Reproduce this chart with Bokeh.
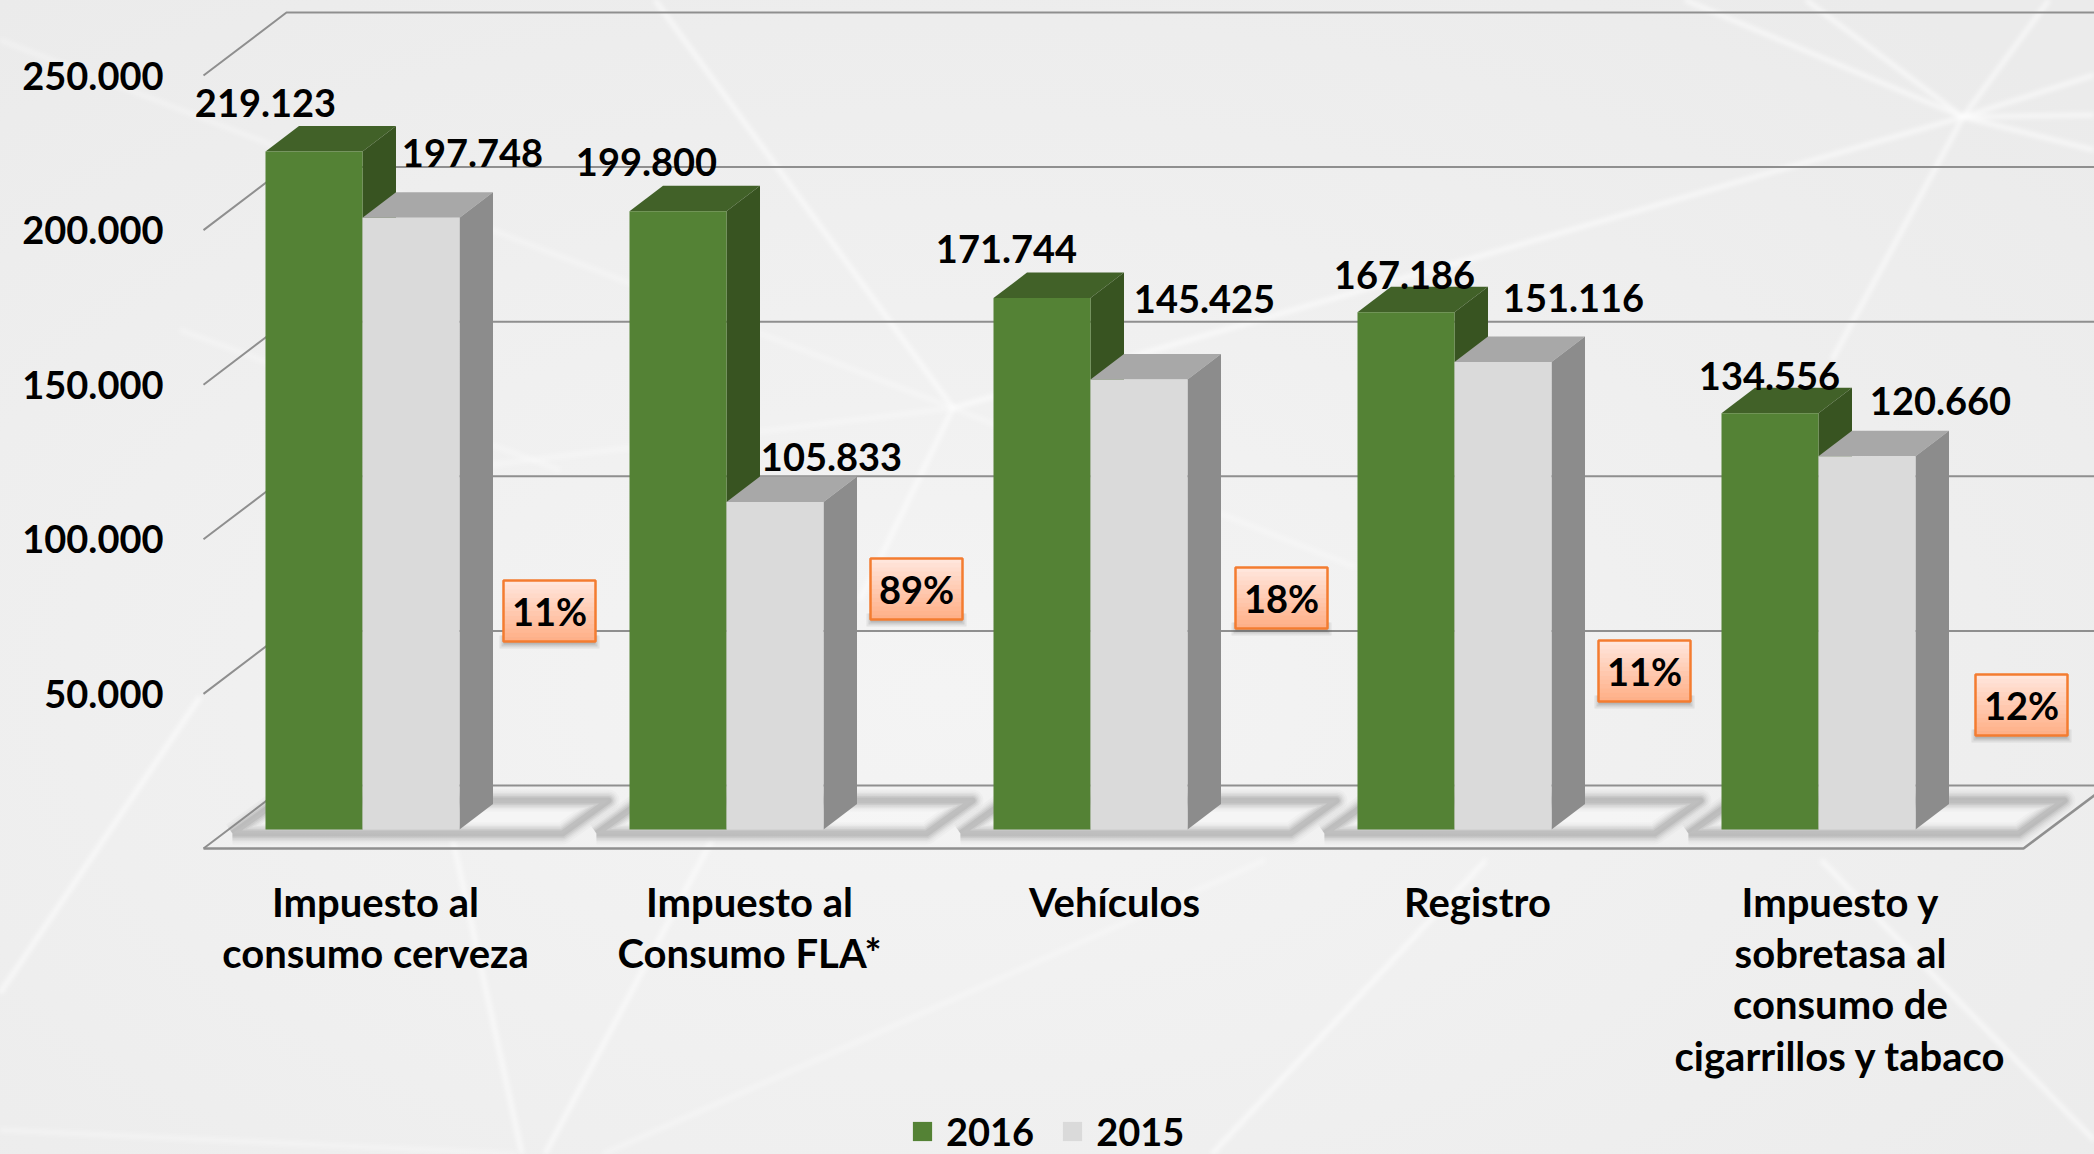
from urllib.parse import quote
import numpy as np
from bokeh.embed import file_html
from bokeh.layouts import column
from bokeh.resources import INLINE
from bokeh.plotting import figure
from bokeh.core.properties import value
from bokeh.models import (ColumnDataSource, Range1d, LinearAxis, FixedTicker,
                          Legend, LegendItem)

# ---------- data ----------
categories = ["Impuesto al\nconsumo cerveza", "Impuesto al\nConsumo FLA*", "Vehículos",
              "Registro", "Impuesto y\nsobretasa al\nconsumo de\ncigarrillos y tabaco"]
values_2016 = [219123, 199800, 171744, 167186, 134556]
values_2015 = [197748, 105833, 145425, 151116, 120660]
labels_2016 = ["219.123", "199.800", "171.744", "167.186", "134.556"]
labels_2015 = ["197.748", "105.833", "145.425", "151.116", "120.660"]
growth = ["11%", "89%", "18%", "11%", "12%"]
y_ticks = [50000, 100000, 150000, 200000, 250000]
y_tick_labels = ["50.000", "100.000", "150.000", "200.000", "250.000"]
series_names = ["2016", "2015"]

# ---------- layout (page pixels) ----------
W, H, H_LEG = 2094, 1094, 60
LEFT, BOTTOM, TOP, RIGHT = 170, 875, 0, 2094
C0, GROUP = 362.0, 364.0          # first group's centre, group spacing
Y0_BAR, K_BAR = 829.0, 3.094e-3   # bar baseline, px per unit
Y0_WALL, K_WALL = 848.0, 3.092e-3 # front edge of the walls
FONT = "Lato"
FS = "38px"
FS_CAT = "40px"
X = lambda px: (np.asarray(px, float) - C0) / GROUP
Y = lambda py: (Y0_BAR - np.asarray(py, float)) / K_BAR
YW = lambda py: (Y0_WALL - np.asarray(py, float)) / K_WALL
BW = 97 / GROUP
DX, DY = 33.5 / GROUP, 25.5 / K_BAR
COL_2016, COL_2015 = "#548235", "#dadada"

# label nudges in pixels
off_2016 = [(0, -49), (17, -49), (13, -49), (47, -37), (48, -37)]
off_2015 = [(110, -65), (105, -45), (114, -81), (119, -64), (122, -55)]
callout_boxes = [(503, 580), (870, 558), (1235, 567), (1598, 640), (1975, 674)]
label_centres = [375, 749, 1114, 1477, 1840]

p = figure(width=W, height=H, output_backend="svg", toolbar_location=None,
           x_range=Range1d(float(X(LEFT)), float(X(RIGHT))),
           y_range=Range1d(float(Y(BOTTOM)), float(Y(TOP))),
           min_border_left=LEFT, min_border_right=0, min_border_top=0,
           min_border_bottom=H - BOTTOM, x_axis_type=None, y_axis_type=None,
           background_fill_alpha=0, border_fill_alpha=0, outline_line_alpha=0)
p.grid.visible = False
p.extra_y_ranges["wall"] = Range1d(float(YW(BOTTOM)), float(YW(TOP)))

# ---------- axes ----------
yax = LinearAxis(y_range_name="wall", ticker=FixedTicker(ticks=y_ticks),
                 major_label_overrides=dict(zip(y_ticks, y_tick_labels)),
                 axis_line_alpha=0, major_tick_line_alpha=0, minor_tick_line_alpha=0,
                 major_tick_in=0, major_tick_out=0, major_label_standoff=7,
                 major_label_text_font=FONT, major_label_text_font_style="bold",
                 major_label_text_font_size=FS, major_label_text_color="#000000")
p.add_layout(yax, "left")
tick_x = [float(v) for v in X(label_centres)]
xax = LinearAxis(ticker=FixedTicker(ticks=tick_x),
                 major_label_overrides=dict(zip(tick_x, categories)),
                 axis_line_alpha=0, major_tick_line_alpha=0, minor_tick_line_alpha=0,
                 major_tick_in=0, major_tick_out=0, major_label_standoff=2,
                 major_label_text_font=FONT, major_label_text_font_style="bold",
                 major_label_text_font_size=FS_CAT, major_label_text_color="#000000",
                 major_label_text_line_height=1.07)
p.add_layout(xax, "below")

# ---------- walls and floor ----------
GRID = "#8f8f8f"
WALL_DY = 63 / K_WALL
xl_f, xl_b = float(X(203)), float(X(286))
xr_f, xr_b = float(X(2023)), float(X(2107))
for v in [0] + y_ticks:
    p.line([xl_f, xl_b, float(X(2110))], [v, v + WALL_DY, v + WALL_DY],
           y_range_name="wall", line_color=GRID, line_width=2)
p.line([xl_f, xr_f, xr_b], [0, 0, WALL_DY], y_range_name="wall", line_color=GRID, line_width=2.5)

# blurred frames on the floor beneath every group
for i in range(5):
    s = i * GROUP
    xs = [float(v) for v in X([232 + s, 562 + s, 608 + s, 278 + s, 232 + s])]
    ys = [float(v) for v in Y([833, 833, 800, 800, 833])]
    p.patch(xs, ys, fill_color="#f7f7f7", fill_alpha=0.7, line_alpha=0)
    for lw, a in [(22, .04), (18, .06), (15, .08), (12, .11), (9, .15), (6, .2)]:
        p.line(xs, ys, line_color="#8a8a8a", line_alpha=a, line_width=lw, line_join="round")

# ---------- 3D bars ----------
def bar(lefts, vals, front, top, side):
    l = np.asarray(lefts)
    r = l + BW
    v = np.asarray(vals, float)
    p.patches([[a, a + DX, b + DX, b] for a, b in zip(l, r)],
              [[t, t + DY, t + DY, t] for t in v], fill_color=top, line_alpha=0)
    p.patches([[b, b + DX, b + DX, b] for b in r],
              [[t, t + DY, DY, 0] for t in v], fill_color=side, line_alpha=0)
    return p.quad(left=l, right=r, bottom=np.zeros(5), top=v, fill_color=front, line_alpha=0)

idx = np.arange(5, dtype=float)
bar(idx - BW, values_2016, COL_2016, "#416128", "#385421")
bar(idx, values_2015, COL_2015, "#a8a8a8", "#8c8c8c")

# ---------- value labels ----------
for base, vals, texts, off in [(idx - BW, values_2016, labels_2016, off_2016),
                               (idx, values_2015, labels_2015, off_2015)]:
    src = ColumnDataSource(dict(x=base, y=vals, t=texts,
                                dx=[o[0] for o in off], dy=[o[1] for o in off]))
    p.text("x", "y", text="t", source=src, x_offset="dx", y_offset="dy",
           text_align="center", text_baseline="middle", text_color="#000000",
           text_font=value(FONT), text_font_style="bold", text_font_size=FS)

# ---------- growth call-outs ----------
BOX_W, BOX_H = 92, 61
top_c, bot_c = np.array([255, 230, 220]), np.array([255, 176, 136])
for (bx, by), t in zip(callout_boxes, growth):
    for k, a in [(7, .10), (5, .14), (3, .18)]:
        p.quad(left=X(bx - k + 3), right=X(bx + BOX_W + k - 3), top=Y(by + BOX_H - 6),
               bottom=Y(by + BOX_H + k), fill_color="#555555", fill_alpha=a, line_alpha=0)
    n = 14
    for j in range(n):
        c = top_c + (bot_c - top_c) * j / (n - 1)
        col = "#%02x%02x%02x" % tuple(int(q) for q in c)
        p.quad(left=X(bx), right=X(bx + BOX_W), top=Y(by + BOX_H * j / n),
               bottom=Y(by + BOX_H * (j + 1) / n + .5), fill_color=col, line_alpha=0)
    p.quad(left=X(bx), right=X(bx + BOX_W), top=Y(by), bottom=Y(by + BOX_H),
           fill_alpha=0, line_color="#f47c30", line_width=2.5)
    p.text(X([bx + BOX_W / 2]), Y([by + BOX_H / 2]), text=[t], text_align="center",
           text_baseline="middle", text_color="#000000", text_font=value(FONT),
           text_font_style="bold", text_font_size=FS)

# ---------- legend (its own strip under the chart) ----------
leg = figure(width=W, height=H_LEG, output_backend="svg", toolbar_location=None,
             x_range=Range1d(0, 1), y_range=Range1d(0, 1), x_axis_type=None, y_axis_type=None,
             min_border=0, background_fill_alpha=0, border_fill_alpha=0, outline_line_alpha=0)
leg.grid.visible = False
s16 = leg.quad(left=[2], right=[3], bottom=[2], top=[3], fill_color=COL_2016, line_alpha=0)
s15 = leg.quad(left=[2], right=[3], bottom=[2], top=[3], fill_color=COL_2015, line_alpha=0)
legend = Legend(items=[LegendItem(label=series_names[0], renderers=[s16]),
                       LegendItem(label=series_names[1], renderers=[s15])],
                orientation="horizontal", location=(740, 0),
                background_fill_alpha=0, border_line_alpha=0, padding=0, margin=0,
                spacing=26, label_standoff=12, glyph_width=24, glyph_height=24,
                label_text_font=FONT, label_text_font_style="bold", label_text_font_size=FS,
                label_text_color="#000000")
leg.add_layout(legend, "center")

# ---------- page backdrop: soft grey with thin white rays ----------
bright_rays = [
    [(655, 0), (953, 408)], [(953, 408), (860, 600)], [(953, 408), (1963, 117)],
    [(1685, 0), (1963, 117)], [(1806, 0), (1963, 117)], [(2049, 0), (1963, 117)],
    [(2094, 75), (1963, 117)], [(2094, 115), (1963, 117)], [(2094, 150), (1963, 117)],
    [(1963, 117), (1832, 360)], [(1486, 860), (1212, 1154)], [(1821, 860), (2094, 1140)],
    [(0, 993), (200, 697)], [(453, 840), (522, 1154)], [(712, 840), (545, 1154)],
]
faint_rays = [
    [(0, 40), (953, 408)], [(490, 465), (953, 408)], [(953, 408), (1355, 567)],
    [(1265, 860), (900, 1023)], [(900, 1023), (603, 1154)], [(0, 1130), (517, 1154)],
    [(180, 330), (560, 470)],
]
def polylines(rays):
    return "".join('<polyline points="%s"/>' % " ".join("%d,%d" % q for q in r) for r in rays)
svg = ('<svg xmlns="http://www.w3.org/2000/svg" width="2094" height="1154">'
       '<defs><radialGradient id="g" cx="45%" cy="60%" r="75%">'
       '<stop offset="0" stop-color="#f4f4f4"/><stop offset="1" stop-color="#ebebeb"/></radialGradient>'
       '<filter id="b"><feGaussianBlur stdDeviation="2"/></filter></defs>'
       '<rect width="2094" height="1154" fill="url(#g)"/>'
       '<g fill="none" stroke="#ffffff" stroke-opacity="0.55" stroke-width="5" filter="url(#b)">'
       + polylines(bright_rays) + '</g>'
       '<g fill="none" stroke="#ffffff" stroke-opacity="0.3" stroke-width="5" filter="url(#b)">'
       + polylines(faint_rays) + '</g></svg>')
css = ('<style>html{overflow:hidden;background:#efefef url("data:image/svg+xml,%s") 0 0/2094px 1154px no-repeat}'
       'body{overflow:hidden}</style>' % quote(svg))

html = file_html(column(p, leg, spacing=0), INLINE).replace("<head>", "<head>" + css, 1)
open("out.html", "w").write(html)
